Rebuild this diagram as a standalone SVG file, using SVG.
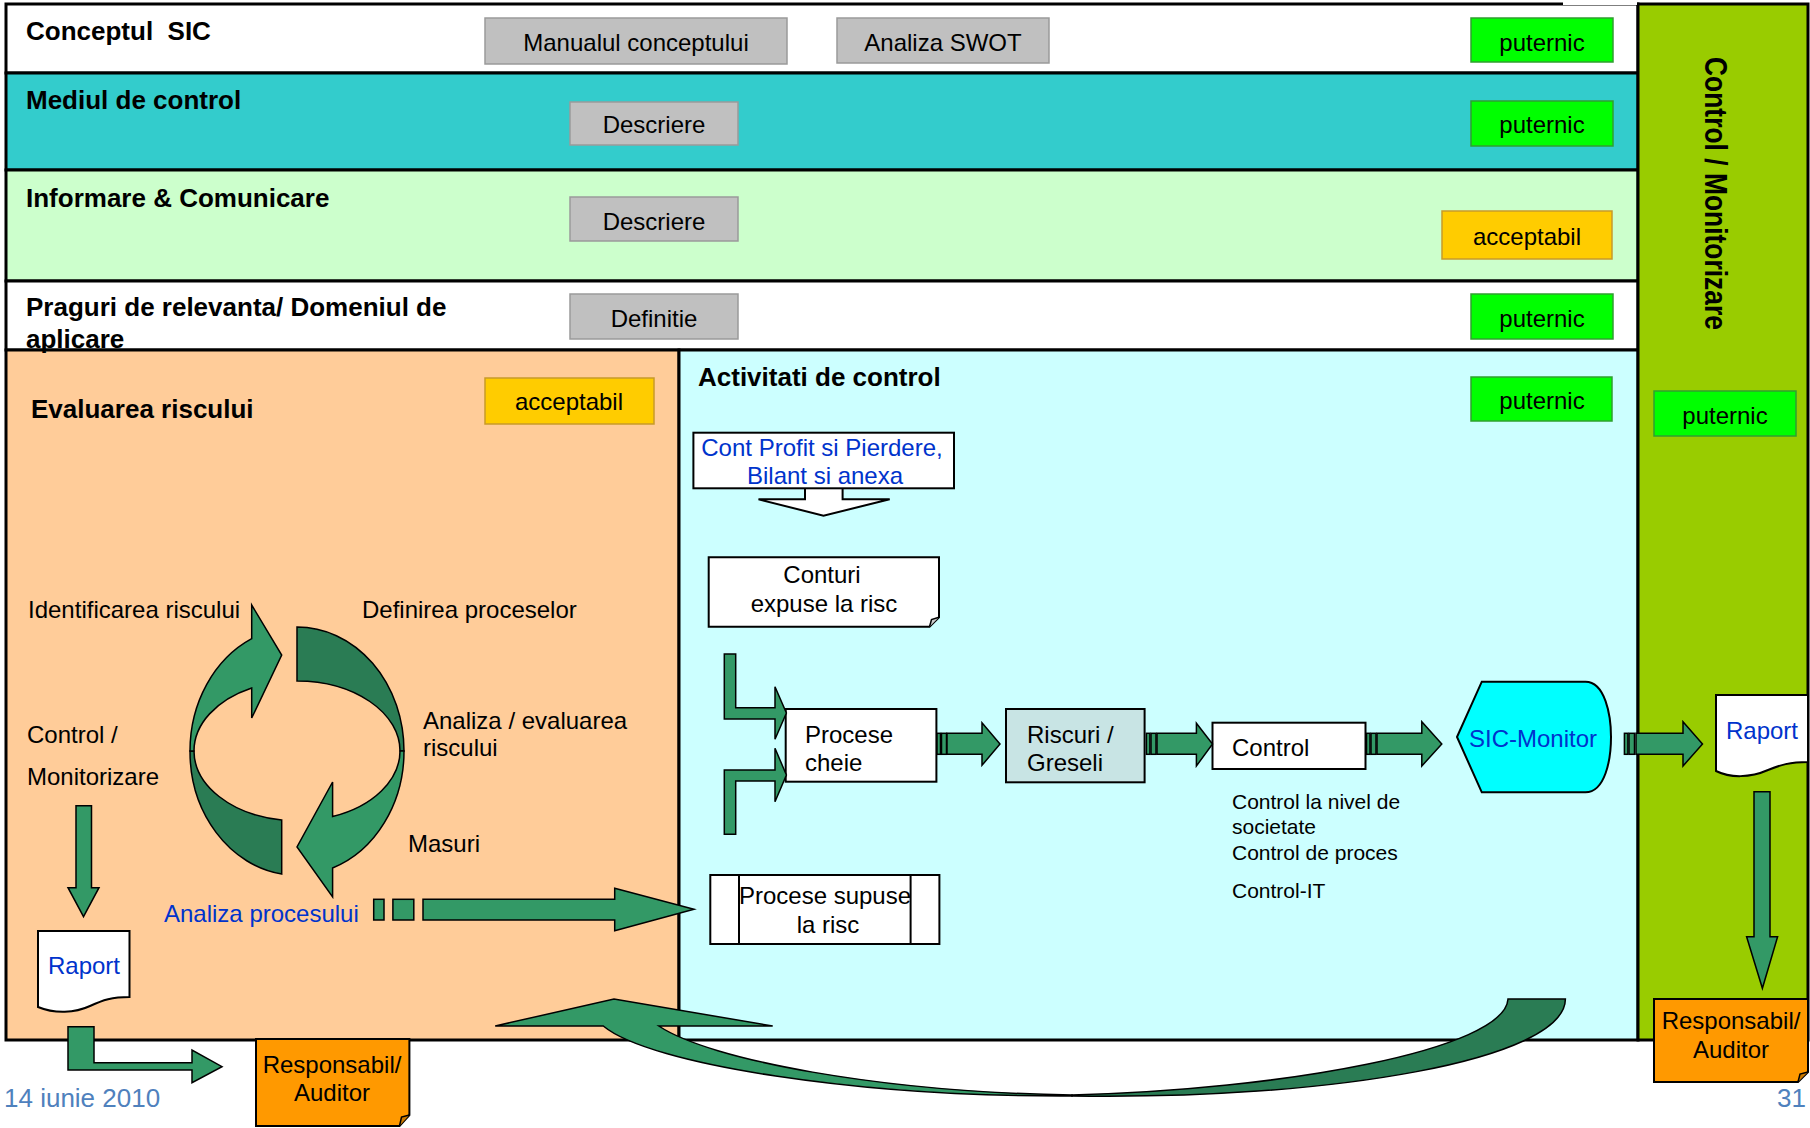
<svg xmlns="http://www.w3.org/2000/svg" width="1810" height="1128" viewBox="0 0 1810 1128">
<defs>
<style>
text{font-family:"Liberation Sans",Arial,sans-serif;}
.h{font-size:26px;font-weight:bold;fill:#000}
.t{font-size:24px;fill:#000}
.s{font-size:21px;fill:#000}
.tb{font-size:24px;fill:#0033CC}
.c{text-anchor:middle}
.gray{fill:#C0C0C0;stroke:#9A9A9A;stroke-width:1.5}
.str{fill:#00FF00;stroke:#2FA02F;stroke-width:1.5}
.acc{fill:#FFCC00;stroke:#C89A2A;stroke-width:1.5}
.node{fill:#fff;stroke:#000;stroke-width:2}
.arr{fill:#339966;stroke:#000;stroke-width:1.5;stroke-linejoin:miter}
.dark{fill:#2A7C54;stroke:#000;stroke-width:1.5}
.panel{stroke:#000;stroke-width:3}
.resp{fill:#FF9900;stroke:#000;stroke-width:2}
</style>
</defs>
<rect width="1810" height="1128" fill="#fff"/>

<g id="panels">
<rect x="6" y="4" width="1632" height="69" fill="#fff" class="panel"/>
<rect x="6" y="73" width="1632" height="97" fill="#33CCCC" class="panel"/>
<rect x="6" y="170" width="1632" height="111" fill="#CCFFCC" class="panel"/>
<rect x="6" y="281" width="1632" height="69" fill="#fff" class="panel"/>
<rect x="6" y="350" width="673" height="690" fill="#FFCC99" class="panel"/>
<rect x="679" y="350" width="959" height="690" fill="#CCFFFF" class="panel"/>
<rect x="1638" y="4" width="170" height="1036" fill="#99CC00" class="panel"/>
<rect x="1563" y="0" width="74" height="5" fill="#fff"/>
</g>

<g id="row-conceptul">
<text class="h" x="26" y="40" xml:space="preserve">Conceptul  SIC</text>
<rect class="gray" x="485" y="18" width="302" height="46"/>
<text class="t c" x="636" y="51">Manualul conceptului</text>
<rect class="gray" x="837" y="18" width="212" height="45"/>
<text class="t c" x="943" y="51">Analiza SWOT</text>
<rect class="str" x="1471" y="18" width="142" height="44"/>
<text class="t c" x="1542" y="51">puternic</text>
</g>

<g id="row-mediul">
<text class="h" x="26" y="109">Mediul de control</text>
<rect class="gray" x="570" y="102" width="168" height="43"/>
<text class="t c" x="654" y="133">Descriere</text>
<rect class="str" x="1471" y="101" width="142" height="45"/>
<text class="t c" x="1542" y="133">puternic</text>
</g>

<g id="row-informare">
<text class="h" x="26" y="207">Informare &amp; Comunicare</text>
<rect class="gray" x="570" y="197" width="168" height="44"/>
<text class="t c" x="654" y="230">Descriere</text>
<rect class="acc" x="1442" y="211" width="170" height="48"/>
<text class="t c" x="1527" y="245">acceptabil</text>
</g>

<g id="row-praguri">
<text class="h" x="26" y="316">Praguri de relevanta/ Domeniul de</text>
<text class="h" x="26" y="348">aplicare</text>
<rect class="gray" x="570" y="294" width="168" height="45"/>
<text class="t c" x="654" y="327">Definitie</text>
<rect class="str" x="1471" y="294" width="142" height="45"/>
<text class="t c" x="1542" y="327">puternic</text>
</g>

<g id="control-monitorizare">
<text class="h" transform="translate(1705,57) rotate(90)" x="0" y="0" style="font-size:32px" textLength="273" lengthAdjust="spacingAndGlyphs">Control / Monitorizare</text>
<rect class="str" x="1654" y="391" width="142" height="45"/>
<text class="t c" x="1725" y="424">puternic</text>
</g>

<g id="evaluarea">
<text class="h" x="31" y="418">Evaluarea riscului</text>
<rect class="acc" x="485" y="378" width="169" height="46"/>
<text class="t c" x="569" y="410">acceptabil</text>
<text class="t" x="28" y="618">Identificarea riscului</text>
<text class="t" x="362" y="618">Definirea proceselor</text>
<text class="t" x="423" y="729">Analiza / evaluarea</text>
<text class="t" x="423" y="756">riscului</text>
<text class="t" x="27" y="743">Control /</text>
<text class="t" x="27" y="785">Monitorizare</text>
<text class="t" x="408" y="852">Masuri</text>
<text class="tb" x="164" y="922">Analiza procesului</text>
</g>

<g id="cycle">
<path class="dark" d="M297,627 A107,124 0 0 1 404,751 L400,751 A103,70 0 0 0 297,681 Z"/>
<path class="dark" d="M190,751 A107,124 0 0 0 281.7,874 L281.7,820 A103,70 0 0 1 194,751 Z"/>
<path class="arr" d="M190,751 A107,124 0 0 1 251.7,638.7 L251.7,605 L281.7,655 L251.7,718 L251.7,688 A103,70 0 0 0 194,751 Z"/>
<path class="arr" d="M404,751 A107,124 0 0 1 332.6,868 L332.6,897 L297,847 L332.6,782 L332.6,816.5 A103,70 0 0 0 400,751 Z"/>
</g>

<g id="raport-left">
<path class="node" d="M38,931 H129.5 V997 C112,997 103,1000 90,1006 C75,1013 55,1014 38,1007 Z"/>
<text class="tb c" x="84" y="974">Raport</text>
</g>

<g id="responsabil-left">
<path class="resp" d="M256,1039 H409.4 V1115 L399.5,1126 H256 Z"/>
<path d="M399.5,1126 L401.5,1117 L409.4,1115" fill="#CC7A00" stroke="#000" stroke-width="1.5"/>
<text class="t c" x="332" y="1073">Responsabil/</text>
<text class="t c" x="332" y="1101">Auditor</text>
</g>

<g id="activitati">
<text class="h" x="698" y="386">Activitati de control</text>
<rect class="str" x="1471" y="377" width="141" height="44"/>
<text class="t c" x="1542" y="409">puternic</text>
<text class="s" x="1232" y="809">Control la nivel de</text>
<text class="s" x="1232" y="834">societate</text>
<text class="s" x="1232" y="860">Control de proces</text>
<text class="s" x="1232" y="898">Control-IT</text>
</g>

<g id="cont-profit">
<path class="node" d="M805,488.3 V499.3 H758.5 L823.5,515.7 L889.7,499.3 H842.6 V488.3"/>
<rect class="node" x="693.4" y="432.7" width="260.6" height="55.6"/>
<text class="tb c" x="822" y="456">Cont Profit si Pierdere,</text>
<text class="tb c" x="825" y="484">Bilant si anexa</text>
</g>

<g id="conturi">
<path class="node" d="M708.7,557.3 H939 V617.3 L929.5,626.7 H708.7 Z"/>
<path d="M929.5,626.7 L931.5,619.5 L939,617.3" fill="#ccc" stroke="#000" stroke-width="1.5"/>
<text class="t c" x="822" y="583">Conturi</text>
<text class="t c" x="824" y="612">expuse la risc</text>
</g>

<g id="procese-cheie">
<rect class="node" x="785.7" y="709" width="150.7" height="72.7"/>
<text class="t" x="805" y="743">Procese</text>
<text class="t" x="805" y="771">cheie</text>
</g>

<g id="riscuri">
<rect x="1006" y="709" width="138.6" height="73.3" fill="#C8E4E4" stroke="#000" stroke-width="2"/>
<text class="t" x="1027" y="743">Riscuri /</text>
<text class="t" x="1027" y="771">Greseli</text>
</g>

<g id="control">
<rect class="node" x="1212.5" y="722.7" width="153" height="46.3"/>
<text class="t" x="1232" y="756">Control</text>
</g>

<g id="sic-monitor">
<path d="M1457,737 L1481.8,681.7 H1585.5 C1605,681.7 1611,715 1611,737 C1611,760 1605,792.3 1585.5,792.3 H1481.8 Z" fill="#00FFFF" stroke="#000" stroke-width="2"/>
<text class="tb c" x="1533" y="747">SIC-Monitor</text>
</g>

<g id="raport-right">
<path class="node" d="M1716,695 H1808 V762 C1790,762 1780,765 1768,770 C1750,778 1730,778 1716,771 Z"/>
<text class="tb c" x="1762" y="739">Raport</text>
</g>

<g id="procese-supuse">
<rect class="node" x="710.3" y="875" width="229.1" height="69"/>
<line x1="739" y1="875" x2="739" y2="944" stroke="#000" stroke-width="2"/>
<line x1="910.6" y1="875" x2="910.6" y2="944" stroke="#000" stroke-width="2"/>
<text class="t c" x="825" y="904">Procese supuse</text>
<text class="t c" x="828" y="933">la risc</text>
</g>

<g id="responsabil-right">
<path class="resp" d="M1654,999 H1808 V1072 L1798,1082 H1654 Z"/>
<path d="M1798,1082 L1800,1074 L1808,1072" fill="#CC7A00" stroke="#000" stroke-width="1.5"/>
<text class="t c" x="1731" y="1029">Responsabil/</text>
<text class="t c" x="1731" y="1058">Auditor</text>
</g>

<g id="connectors">
<path class="arr" d="M76,805.7 H91.5 V887.7 H99 L83.5,916.7 L68,887.7 H76 Z"/>
<path class="arr" d="M68,1026.7 H94 V1062.7 H192 V1050 L222,1066.7 L192,1082.7 V1070 H68 Z"/>
<rect class="arr" x="373.7" y="899.3" width="10.3" height="20.7"/>
<rect class="arr" x="392.9" y="899.3" width="20.9" height="20.7"/>
<path class="arr" d="M423,899.3 H614.7 V888.3 L694,909.3 L614.7,930.7 V920 H423 Z"/>
<path class="arr" d="M724.3,654 H735.7 V707.7 H775 V686.7 L786.4,713 L775,739.3 V719 H724.3 Z"/>
<path class="arr" d="M724.3,834.3 V770 H775 V748.3 L786.4,775 L775,801.7 V781 H735.7 V834.3 Z"/>
<rect class="arr" x="937" y="733.3" width="3.5" height="21"/>
<rect class="arr" x="941.5" y="733.3" width="5" height="21"/>
<path class="arr" d="M947,733.3 H982 V722.7 L1000,744 L982,765.3 V754.3 H947 Z"/>
<rect class="arr" x="1146.4" y="733.3" width="3.5" height="21"/>
<rect class="arr" x="1151" y="733.3" width="5" height="21"/>
<path class="arr" d="M1157,733.3 H1196.4 V723.3 L1212.5,744 L1196.4,766 V754.3 H1157 Z"/>
<rect class="arr" x="1366.5" y="733.3" width="3.5" height="21"/>
<rect class="arr" x="1371" y="733.3" width="5" height="21"/>
<path class="arr" d="M1377,733.3 H1421.8 V721.7 L1441.8,744 L1421.8,766 V754.3 H1377 Z"/>
<rect class="arr" x="1624.4" y="733.3" width="3.5" height="21"/>
<rect class="arr" x="1629" y="733.3" width="5.5" height="21"/>
<path class="arr" d="M1636,733.3 H1683 V721.7 L1702.5,744 L1683,766 V754.3 H1636 Z"/>
<path class="arr" d="M1754,791.7 H1770 V936.7 H1777.6 L1762.4,988.3 L1746.6,936.7 H1754 Z"/>
<path class="dark" d="M1072,1095 C1280,1090 1505,1050 1508,999 L1565.4,999 C1565,1060 1330,1100 1072,1096 Z"/>
<path class="arr" d="M603.3,1026 L495.2,1026 L614,999 L772.7,1026 L658.8,1026 C710,1060 880,1092 1072,1095 L1072,1096 C860,1097 650,1065 603.3,1026 Z"/>
</g>

<g id="footer">
<text x="4" y="1107" style="font-size:26px;fill:#4F81BD">14 iunie 2010</text>
<text x="1806" y="1107" style="font-size:26px;fill:#4F81BD;text-anchor:end">31</text>
</g>
</svg>
